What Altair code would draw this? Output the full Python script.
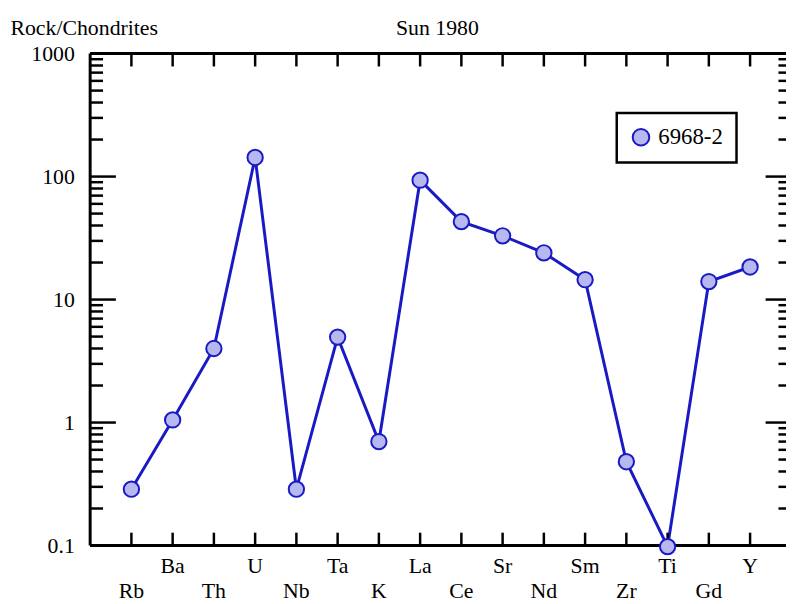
import altair as alt
import pandas as pd

# ---- data ----
elements = ["Rb", "Ba", "Th", "U", "Nb", "Ta", "K", "La", "Ce", "Sr", "Nd", "Sm", "Zr", "Ti", "Gd", "Y"]
values = [0.287, 1.05, 4.0, 143, 0.287, 4.95, 0.70, 93.5, 43, 33, 24, 14.5, 0.48, 0.098, 14, 18.4]
sample = "6968-2"
y_major = [0.1, 1, 10, 100, 1000]
y_minor = [m * d for d in [0.1, 1, 10, 100] for m in range(2, 10)]

FONT = "'Liberation Serif', 'Times New Roman', Times, 'DejaVu Serif', serif"
LINE = "#1A1AC4"
FILL = "#B8B8F0"

W, H = 703, 497
STEP = 41.67
XMAX = W / STEP

df = pd.DataFrame({"idx": list(range(1, len(elements) + 1)), "element": elements,
                   "value": values, "sample": sample})
df["row"] = ["low" if i % 2 == 1 else "high" for i in df["idx"]]

xs = alt.Scale(domain=[0, XMAX], nice=False, zero=False)
X = alt.X("idx:Q", scale=xs, axis=None)
Y = alt.Y("value:Q",
          scale=alt.Scale(type="log", domain=[0.1, 1000], nice=False),
          axis=alt.Axis(values=y_major, format="~g", domain=False, ticks=False, grid=False,
                        labelFont=FONT, labelFontSize=22, labelColor="black",
                        labelPadding=16, labelFlush=False, labelBaseline="middle",
                        title="Rock/Chondrites", titleAngle=0, titleX=-81, titleY=-19,
                        titleAlign="left", titleBaseline="alphabetic", titleFont=FONT,
                        titleFontSize=22, titleFontWeight="normal", titleColor="black"))

one = pd.DataFrame({"a": [0]})
maj = pd.DataFrame({"value": y_major})
mnr = pd.DataFrame({"value": y_minor})
xt = pd.DataFrame({"idx": list(range(1, len(elements) + 1))})

TW = 2.5
frame_left = alt.Chart(one).mark_rule(color="black", strokeWidth=3).encode(
    x=alt.datum(0), y=alt.datum(0.1), y2=alt.datum(1000))
frame_top = alt.Chart(one).mark_rule(color="black", strokeWidth=3).encode(
    y=alt.datum(1000), x=alt.datum(0), x2=alt.datum(17))
frame_bot = alt.Chart(one).mark_rule(color="black", strokeWidth=3).encode(
    y=alt.datum(0.1), x=alt.datum(0), x2=alt.datum(17))

lmaj = alt.Chart(maj).mark_rule(color="black", strokeWidth=TW, x2Offset=26).encode(
    y=alt.Y("value:Q"), x=alt.datum(0), x2=alt.datum(0))
lmin = alt.Chart(mnr).mark_rule(color="black", strokeWidth=TW, x2Offset=13).encode(
    y=alt.Y("value:Q"), x=alt.datum(0), x2=alt.datum(0))
rmaj = alt.Chart(maj).mark_rule(color="black", strokeWidth=TW, x2Offset=-26).encode(
    y=alt.Y("value:Q"), x=alt.datum(17), x2=alt.datum(17))
rmin = alt.Chart(mnr).mark_rule(color="black", strokeWidth=TW, x2Offset=-13).encode(
    y=alt.Y("value:Q"), x=alt.datum(17), x2=alt.datum(17))
btick = alt.Chart(xt).mark_rule(color="black", strokeWidth=TW, y2Offset=-13).encode(
    x="idx:Q", y=alt.datum(0.1), y2=alt.datum(0.1))
ttick = alt.Chart(xt).mark_rule(color="black", strokeWidth=TW, y2Offset=13).encode(
    x="idx:Q", y=alt.datum(1000), y2=alt.datum(1000))

line = alt.Chart(df).mark_line(color=LINE, strokeWidth=3).encode(x=X, y=Y)
pts = alt.Chart(df).mark_circle(size=240, opacity=1, stroke=LINE, strokeWidth=2).encode(
    x="idx:Q", y="value:Q",
    fill=alt.Fill("sample:N", scale=alt.Scale(domain=[sample], range=[FILL]),
                  legend=alt.Legend(title=None, orient="none", legendX=532, legendY=60,
                                    strokeColor="black", padding=13, symbolType="circle",
                                    symbolSize=280, symbolStrokeColor=LINE, symbolStrokeWidth=2,
                                    symbolOpacity=1, labelFont=FONT, labelFontSize=23,
                                    labelColor="black", labelOffset=6,
                                    labelExpr="datum.label + '\u00a0\u00a0'")))

lab_hi = alt.Chart(df).transform_filter(alt.datum.row == "high").mark_text(
    font=FONT, fontSize=22, baseline="alphabetic", dy=28, color="black").encode(
    x="idx:Q", y=alt.datum(0.1), text="element:N")
lab_lo = alt.Chart(df).transform_filter(alt.datum.row == "low").mark_text(
    font=FONT, fontSize=22, baseline="alphabetic", dy=53, color="black").encode(
    x="idx:Q", y=alt.datum(0.1), text="element:N")

title_txt = alt.Chart(one).mark_text(
    text="Sun 1980", font=FONT, fontSize=22, align="left", baseline="alphabetic",
    color="black").encode(x=alt.value(309), y=alt.value(-19))

base = alt.layer(line, frame_left, frame_top, frame_bot, lmaj, lmin, rmaj, rmin,
                 btick, ttick, pts, lab_hi, lab_lo, title_txt).properties(
    width=W, height=H,
    autosize=alt.AutoSizeParams(type="none"),
    padding={"left": 83, "top": 43, "right": 0, "bottom": 54},
).configure_view(stroke=None)

try:
    chart = base.configure_legend(strokeWidth=2.5)
    chart.to_dict()
except Exception:
    chart = base

chart.save("out.html", embed_options={"renderer": "svg", "actions": False})
